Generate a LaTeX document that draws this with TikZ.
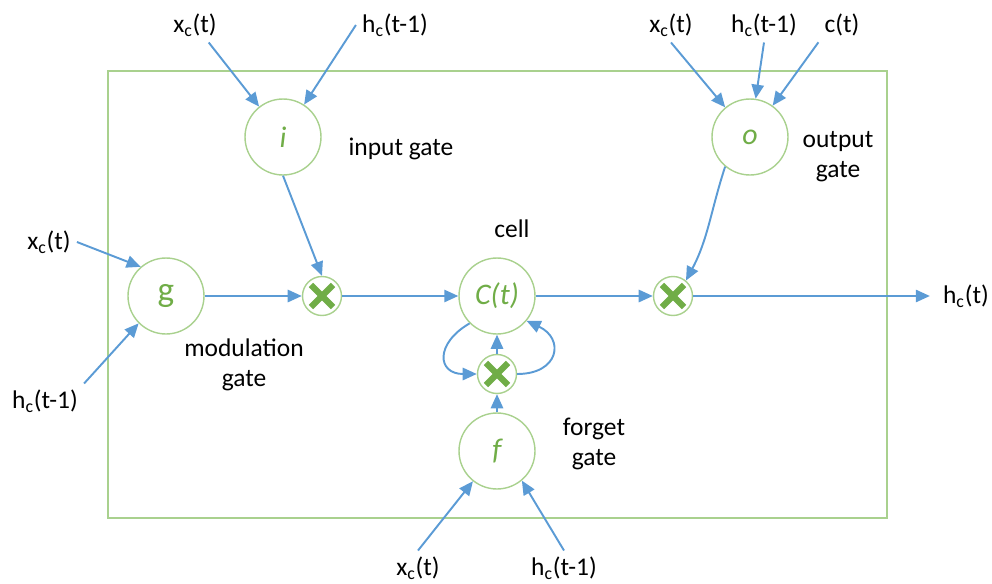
\documentclass[tikz,border=0pt]{standalone}
\usepackage{fontspec}
\setmainfont{Carlito}
\usepackage{tikz}
\usetikzlibrary{arrows.meta, positioning}
\definecolor{lstmblue}{RGB}{91,155,213}
\definecolor{lstmgreen}{RGB}{112,173,71}
\definecolor{lstmpale}{RGB}{169,209,142}
\newcommand{\xin}{x\textsubscript{c}(t)}
\newcommand{\hin}{h\textsubscript{c}(t-1)}
\tikzset{
  gate/.style={circle, draw=lstmpale, fill=white, line width=0.8pt,
    minimum size=1.52cm, inner sep=0pt, text=lstmgreen,
    font=\fontsize{17}{20}\selectfont\itshape},
  mult/.style={circle, draw=lstmpale, fill=white, line width=0.8pt,
    minimum size=0.78cm, inner sep=0pt,
    path picture={
      \draw[lstmgreen, line width=3.5pt]
        ([shift={(-6.3pt,-6.3pt)}]path picture bounding box.center) --
        ([shift={(6.3pt,6.3pt)}]path picture bounding box.center);
      \draw[lstmgreen, line width=3.5pt]
        ([shift={(-6.3pt,6.3pt)}]path picture bounding box.center) --
        ([shift={(6.3pt,-6.3pt)}]path picture bounding box.center);
    }},
  sig/.style={font=\fontsize{14.5}{17}\selectfont, text=black},
  note/.style={font=\fontsize{14.5}{17}\selectfont, align=center, text=black},
  arrow/.style={-{Triangle[length=8pt, width=7pt]}, line width=1.1pt, color=lstmblue},
  frame/.style={draw=lstmpale, line width=1.2pt}
}

\begin{document}
\begin{tikzpicture}[x=0.02cm, y=0.02cm]
  \useasboundingbox (0,0) rectangle (992,583);

  % Frame
  \draw[frame] (108,65) rectangle (887,512);

  % Gates
  \node[gate] (ig) at (283,446) {i};
  \node[gate] (og) at (750,446) {o};
  \node[gate, font=\fontsize{20}{22}\selectfont] (gg) at (166,287) {g};
  \node[gate] (cell) at (497,287) {C(t)};
  \node[gate] (fg) at (497,132) {f};

  % Multipliers
  \node[mult] (m1) at (322,287) {};
  \node[mult] (m2) at (497,209) {};
  \node[mult] (m3) at (673,287) {};

  % Gate names
  \node[note] (inlbl) at (401,434) {input gate};
  \node[note] (outlbl) at (838,426) {output\\gate};
  \node[note] (celllbl) at (512,354) {cell};
  \node[note] (modlbl) at (244,218) {modulation\\gate};
  \node[note] (forlbl) at (594,139) {forget\\gate};

  % Signals
  \node[sig] (xi) at (195,558) {\xin};
  \node[sig] (hi) at (395,558) {\hin};
  \node[sig] (xo) at (671,558) {\xin};
  \node[sig] (ho) at (764,558) {\hin};
  \node[sig] (co) at (842,558) {c(t)};
  \node[sig] (xg) at (49,341) {\xin};
  \node[sig] (hg) at (45,182) {\hin};
  \node[sig] (xf) at (418,15) {\xin};
  \node[sig] (hf) at (564,15) {\hin};
  \node[sig] (hout) at (966,287) {h\textsubscript{c}(t)};

  % Inputs
  \draw[arrow] (xi) -- (ig);
  \draw[arrow] (hi.west) -- (ig);
  \draw[arrow] (xo.south) -- (og);
  \draw[arrow] (ho.south) -- (og);
  \draw[arrow] (co.south west) -- (og);
  \draw[arrow] (xg.east) -- (gg.131);
  \draw[arrow] (hg.north east) -- (gg.225);
  \draw[arrow] (xf.north) -- (fg);
  \draw[arrow] (hf.north) -- (fg.-50);

  % Cell path
  \draw[arrow] (gg) -- (m1);
  \draw[arrow] (ig.south) -- (m1.north);
  \draw[arrow] (m1) -- (cell);
  \draw[arrow] (cell) -- (m3);
  \draw[arrow] (og.230) to[out=-108, in=62] (m3.50);
  \draw[arrow, shorten >=4pt] (m3) -- (hout);

  % Forget loop
  \draw[arrow] (fg) -- (m2);
  \draw[arrow] (m2) -- (cell);
  \draw[arrow] (cell.225) to[out=210, in=180, looseness=2] (m2.west);
  \draw[arrow] (m2.east) to[out=0, in=-25, looseness=2] (cell.-40);

\end{tikzpicture}
\end{document}
